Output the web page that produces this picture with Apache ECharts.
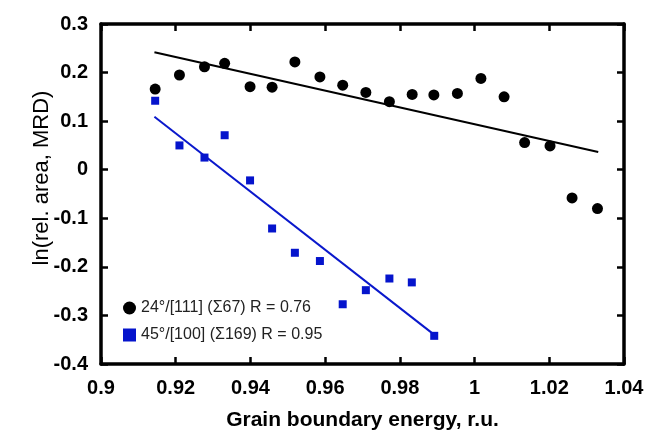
<!DOCTYPE html>
<html>
<head>
<meta charset="utf-8">
<script src="https://cdn.jsdelivr.net/npm/echarts@6/dist/echarts.min.js"></script>
<style>
  html, body { margin: 0; padding: 0; background: #fff; }
  #chart { width: 648px; height: 431px; }
</style>
</head>
<body>
<div id="chart"></div>
<script>
// 24°/[111] 数据点 (x: 能量, y: ln 面积)
var energy111 = [0.9145, 0.921, 0.9277, 0.9331, 0.9399, 0.9458, 0.9519, 0.9586, 0.9647, 0.9709,
                 0.9772, 0.9833, 0.9891, 0.9954, 1.0017, 1.0079, 1.0134, 1.0202, 1.0261, 1.0329];
var area111 = [0.166, 0.195, 0.212, 0.219, 0.171, 0.170, 0.222, 0.191, 0.174, 0.159,
               0.140, 0.155, 0.154, 0.157, 0.188, 0.150, 0.056, 0.049, -0.058, -0.080];
// 45°/[100] 数据点
var energy100 = [0.9145, 0.921, 0.9277, 0.9331, 0.9399, 0.9458, 0.9519, 0.9586, 0.9647, 0.9709,
                 0.9772, 0.9832, 0.9892];
var area100 = [0.142, 0.050, 0.025, 0.071, -0.022, -0.121, -0.171, -0.188, -0.277, -0.248,
               -0.224, -0.232, -0.342];
// 拟合直线的两个端点
var fit111X = [0.9143, 1.0331];
var fit111Y = [0.242, 0.0365];
var fit100X = [0.9143, 0.9889];
var fit100Y = [0.109, -0.338];

var name111 = '24°/[111] (Σ67) R = 0.76';
var name100 = '45°/[100] (Σ169) R = 0.95';

function pairs(xs, ys) {
    return xs.map(function (x, i) { return [x, ys[i]]; });
}

var chart = echarts.init(document.getElementById('chart'));

var frameLine = { show: true, onZero: false, lineStyle: { color: '#000', width: 3.5 } };
var frameTick = { show: true, inside: true, length: 7, lineStyle: { color: '#000', width: 2.5 } };
var tickText = { color: '#000', fontSize: 20, fontWeight: 'bold', fontFamily: 'Liberation Sans, Arial, sans-serif' };

var option = {
    backgroundColor: '#fff',
    animation: false,
    grid: { left: 101, right: 24, top: 24, bottom: 67, outerBoundsMode: 'none' },
    legend: {
        orient: 'vertical',
        left: 118,
        top: 295,
        itemWidth: 13,
        itemHeight: 13,
        itemGap: 11,
        data: [name111, name100],
        textStyle: { color: '#222', fontSize: 16, fontFamily: 'Liberation Sans, Arial, sans-serif' }
    },
    xAxis: [{
        type: 'value',
        min: 0.9, max: 1.04, interval: 0.02,
        position: 'bottom',
        name: 'Grain boundary energy, r.u.',
        nameLocation: 'middle',
        nameGap: 46,
        nameMoveOverlap: false,
        nameTextStyle: { color: '#000', fontSize: 21, fontWeight: 'bold', fontFamily: 'Liberation Sans, Arial, sans-serif' },
        axisLine: frameLine,
        axisTick: frameTick,
        axisLabel: Object.assign({ margin: 14 }, tickText),
        splitLine: { show: false }
    }, {
        type: 'value',
        min: 0.9, max: 1.04, interval: 0.02,
        position: 'top',
        axisLine: frameLine,
        axisTick: frameTick,
        axisLabel: { show: false },
        splitLine: { show: false }
    }],
    yAxis: [{
        type: 'value',
        min: -0.4, max: 0.3, interval: 0.1,
        position: 'left',
        name: 'ln(rel. area, MRD)',
        nameLocation: 'middle',
        nameGap: 48,
        nameMoveOverlap: false,
        nameTextStyle: { color: '#000', fontSize: 22, fontFamily: 'Liberation Sans, Arial, sans-serif', padding: [0, 0, 0, 32] },
        axisLine: frameLine,
        axisTick: frameTick,
        axisLabel: Object.assign({ margin: 13 }, tickText),
        splitLine: { show: false }
    }, {
        type: 'value',
        min: -0.4, max: 0.3, interval: 0.1,
        position: 'right',
        axisLine: frameLine,
        axisTick: frameTick,
        axisLabel: { show: false },
        splitLine: { show: false }
    }],
    series: [{
        name: 'fit111',
        type: 'line',
        data: pairs(fit111X, fit111Y),
        symbol: 'none',
        lineStyle: { color: '#000', width: 2 },
        z: 1
    }, {
        name: 'fit100',
        type: 'line',
        data: pairs(fit100X, fit100Y),
        symbol: 'none',
        lineStyle: { color: '#0a18cc', width: 2 },
        z: 1
    }, {
        name: name111,
        type: 'scatter',
        data: pairs(energy111, area111),
        symbol: 'circle',
        symbolSize: 11,
        itemStyle: { color: '#000', opacity: 1 },
        z: 3
    }, {
        name: name100,
        type: 'scatter',
        data: pairs(energy100, area100),
        symbol: 'rect',
        symbolSize: 8,
        itemStyle: { color: '#0514cc', opacity: 1 },
        z: 3
    }]
};

chart.setOption(option);
window.addEventListener('resize', function () { chart.resize(); });
</script>
</body>
</html>
